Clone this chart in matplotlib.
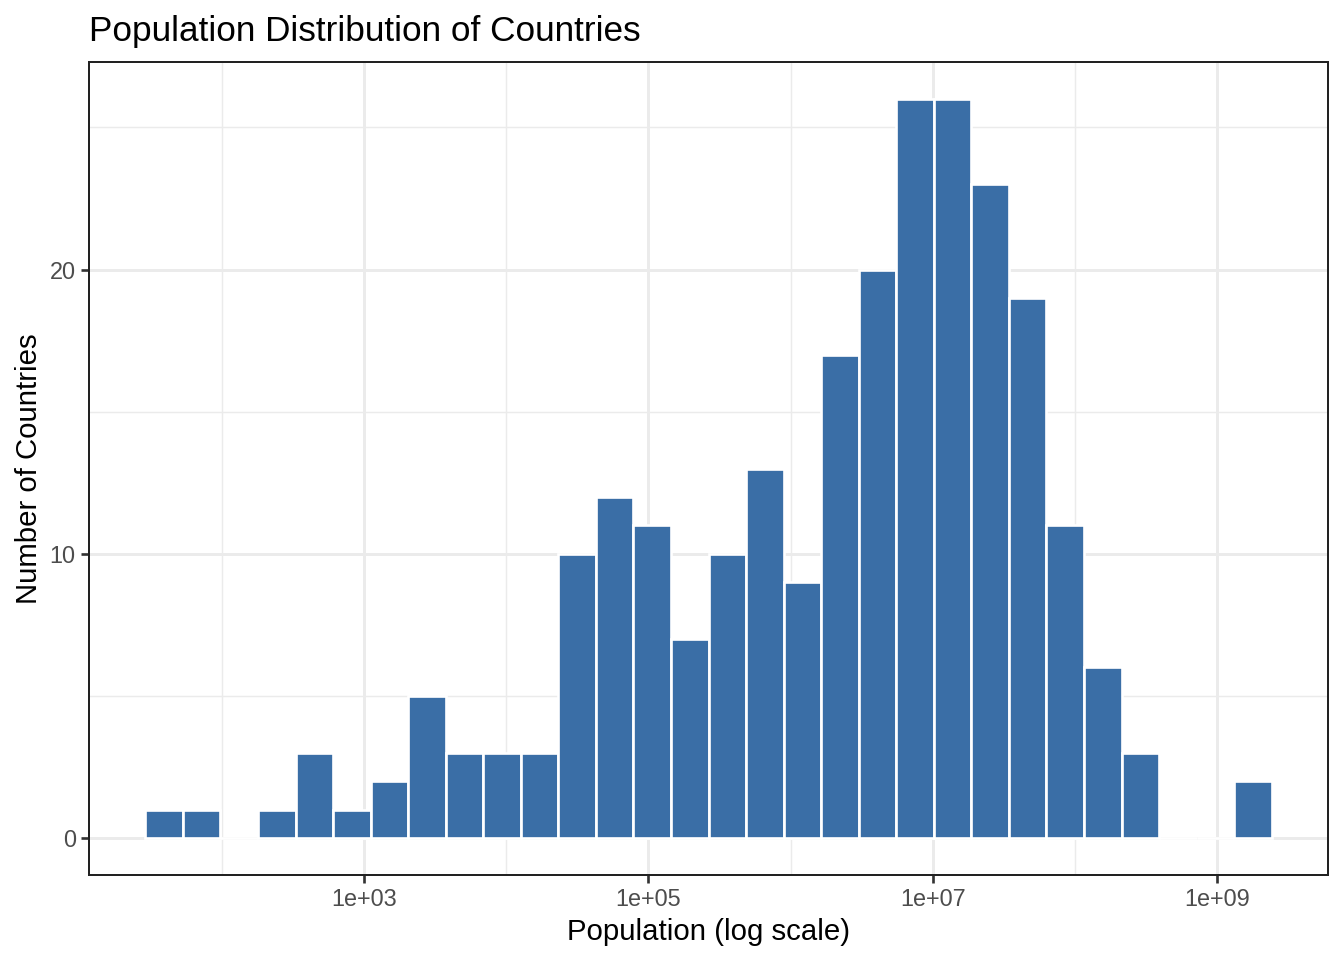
import numpy as np
import matplotlib
matplotlib.use("Agg")
import matplotlib.pyplot as plt
from matplotlib.ticker import FixedLocator, FuncFormatter, NullFormatter

plt.rcParams['font.family'] = ['Liberation Sans', 'DejaVu Sans']

# histogram of log10(population), 30 bins
log_min = 1.458
log_max = 9.387
counts = [1, 1, 0, 1, 3, 1, 2, 5, 3, 3, 3, 10, 12, 11, 7, 10, 13, 9, 17, 20,
          26, 26, 23, 19, 11, 6, 3, 0, 0, 2]

x_major = [1e3, 1e5, 1e7, 1e9]
x_minor = [1e2, 1e4, 1e6, 1e8]
y_major = [0, 10, 20]
y_minor = [5, 15, 25]

edges = np.linspace(log_min, log_max, len(counts) + 1)
lefts = 10 ** edges[:-1]
widths = 10 ** edges[1:] - lefts

fig = plt.figure(figsize=(7, 5), dpi=192)
ax = fig.add_axes([89 / 1344, 85 / 960, 1239 / 1344, 813 / 960])
ax.set_xscale('log')

ax.bar(lefts, counts, width=widths, align='edge', color='#3A6EA6',
       edgecolor='white', linewidth=1.0, zorder=3)

span = log_max - log_min
ax.set_xlim(10 ** (log_min - 0.05 * span), 10 ** (log_max + 0.05 * span))
ax.set_ylim(-1.3, 27.3)

ax.xaxis.set_major_locator(FixedLocator(x_major))
ax.xaxis.set_minor_locator(FixedLocator(x_minor))
ax.xaxis.set_major_formatter(FuncFormatter(lambda v, p: "1e+%02d" % round(np.log10(v))))
ax.xaxis.set_minor_formatter(NullFormatter())
ax.yaxis.set_major_locator(FixedLocator(y_major))
ax.yaxis.set_minor_locator(FixedLocator(y_minor))

ax.grid(which='major', color='#EBEBEB', linewidth=1.1, zorder=0)
ax.grid(which='minor', color='#EBEBEB', linewidth=0.55, zorder=0)
ax.set_axisbelow(True)

ax.tick_params(which='major', length=3.0, width=1.0, color='#333333',
               labelsize=8.8, labelcolor='#4D4D4D', pad=2.0)
ax.tick_params(which='minor', length=0)
for s in ax.spines.values():
    s.set_color('#222222')
    s.set_linewidth(0.75)

ax.set_xlabel("Population (log scale)", fontsize=11, labelpad=2.5)
ax.set_ylabel("Number of Countries", fontsize=11, labelpad=2.5)
ax.set_title("Population Distribution of Countries", fontsize=13.2, loc='left', pad=8)

fig.savefig("out.png", dpi=192)
